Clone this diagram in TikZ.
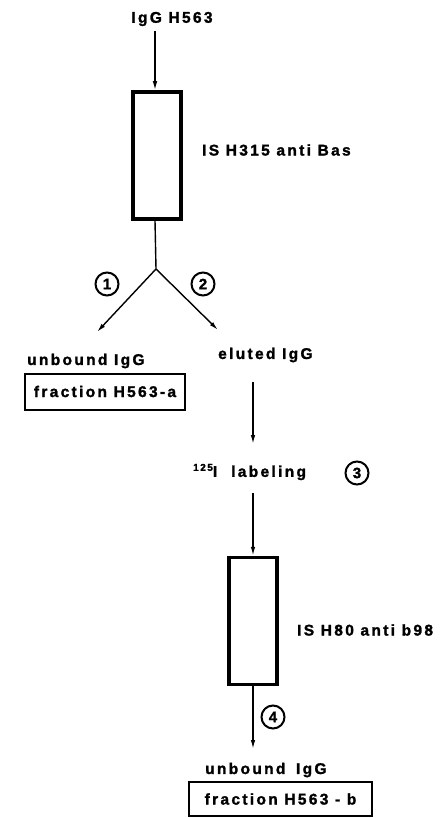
\documentclass[tikz,border=0pt]{standalone}
\usepackage{fontspec}
\setmainfont{Liberation Sans}[LetterSpace=15, BoldFeatures={FakeBold=1.6}]
\usetikzlibrary{arrows.meta}
\tikzset{
  lbl/.style={font=\fontsize{15.5}{17}\selectfont\bfseries, inner sep=0pt},
  col/.style={draw, line width=3.5pt, minimum width=48pt, fill=white, inner sep=0pt},
  fbox/.style={draw, line width=2pt, inner sep=0pt, font=\fontsize{15.5}{17}\selectfont\bfseries},
  arr/.style={line width=1.4pt, -{Latex[length=9pt,width=4.5pt]}},
  ln/.style={line width=1.4pt},
  num/.style={draw, circle, line width=2pt, minimum size=23pt, inner sep=0pt, font=\fontsize{15}{15}\selectfont\bfseries}
}
\begin{document}
\begin{tikzpicture}[x=1pt,y=-1pt]
\useasboundingbox (0,0) rectangle (446,818);
% top
\node[lbl] (t1) at (172,19) {IgG H563};
\node[col, minimum height=127pt] (r1) at (157,155.5) {};
\node[lbl, anchor=west] (l1) at (202,150) {IS H315 anti Bas};
\draw[arr] (155,31) -- (r1.north -| 155,0);
\coordinate (sp) at (156,269);
\draw[ln] (r1.south -| 155,0) -- (sp);
\coordinate (e1) at (97,332);
\coordinate (e2) at (218,330);
\draw[arr] (sp) -- (e1);
\draw[arr] (sp) -- (e2);
\node[num] (n1) at (107,284) {1};
\node[num] (n2) at (203,284) {2};
% left branch
\node[lbl, anchor=west] (u1) at (27,361) {unbound IgG};
\node[fbox, minimum width=160pt, minimum height=36pt] (fa) at (105,391.5) {fraction H563-a};
% right branch
\node[lbl, anchor=west] (el) at (218,355) {eluted IgG};
\node[lbl, anchor=west] (lab) at (193,472) {\raisebox{6pt}{\fontsize{10}{10}\selectfont 125}I\hspace{14pt}labeling};
\draw[arr] (253,382) -- (253,444);
\node[num] (n3) at (357,473) {3};
\node[col, minimum height=127pt] (r2) at (253,621) {};
\draw[arr] (253,493) -- (r2.north);
\node[lbl, anchor=west] (l2) at (297,630) {IS H80 anti b98};
\coordinate (e4) at (253,749);
\draw[arr] (r2.south) -- (e4);
\node[num] (n4) at (273,717) {4};
\node[lbl, anchor=west] (u2) at (205,770) {unbound\hspace{4pt} IgG};
\node[fbox, minimum width=183pt, minimum height=34pt] (fb) at (280.5,799) {fraction H563 - b};
\end{tikzpicture}
\end{document}
